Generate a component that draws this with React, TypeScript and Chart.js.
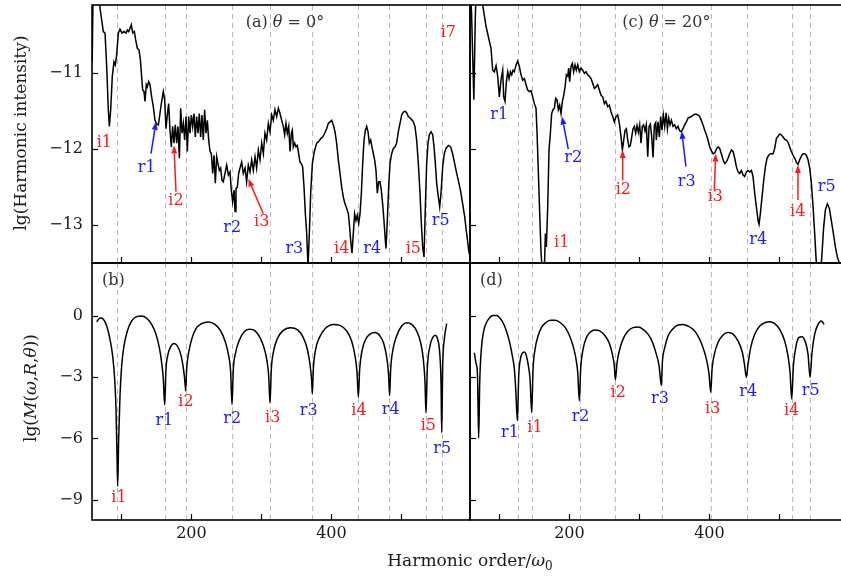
import React, { useEffect, useRef } from 'react';
import { Chart, registerables } from 'chart.js';
Chart.register(...registerables);

const X_MIN = 58;
const X_MAX = 598;
const X_TICKS = [100, 200, 300, 400, 500];
const X_TICK_LABELS = [200, 400];
const INT_TICKS = [-13, -12, -11];
const MOD_TICKS = [-9, -6, -3, 0];

// (a) theta = 0 deg, harmonic intensity
const harm0X = [58.3,59.6,67.5,69.4,74.2,76.6,79,81.3,82.8,84.7,87,89.4,91.3,93.2,95.6,98,100.9,103.7,106.6,108.5,110.4,112.3,114.2,116.1,118.5,120.4,122.8,125.1,127.1,128.9,130.4,132.3,133.7,135.6,137,139,140.9,143.2,145.6,148,150.4,152.8,155.1,157.5,159.9,161.8,163.7,165.6,167.5,169.4,171.3,173.2,175.1,177,179,180.9,182.8,184.7,186.6,188.5,190.4,192.3,194.2,196.1,198,199.9,201.8,203.7,205.6,207.5,209.4,211.3,213.2,215.1,217,218.9,220.9,222.8,224.7,226.6,228.5,230.4,232.3,234.2,236.1,238,239.9,241.8,243.7,245.6,248,250.4,252.8,255.1,257,258.9,260.9,262.3,263.7,265.6,267.5,269.4,271.8,274.2,276.6,278.9,281.3,283.7,286.1,288.5,290.9,293.2,295.6,298,300.4,302.8,305.1,307.5,309.9,312.3,314.7,317,319.4,321.8,324.2,326.6,329,331.3,333.2,335.1,337,339,340.9,342.8,344.2,345.6,347.5,349.4,351.3,353.2,355.1,357,358.9,360.9,362.8,364.7,366.6,368.5,370.4,372.8,375.6,379,381.8,384.7,387.5,390.4,393.2,395.6,398,400.4,402.8,405.1,407.5,409.9,412.3,414.7,417,419.4,421.8,424.2,425.6,427.5,429.4,431.3,433.2,435.1,437,439,440.9,442.8,444.7,446.6,448.5,450.4,452.3,454.2,456.1,458,459.9,461.8,463.7,465.6,467.5,469.4,471.3,473.2,475.1,477,478,479.9,481.8,483.7,486.1,488.5,490.9,493.2,495.6,498,500.4,502.8,505.1,507.5,509.9,512.3,514.7,517,519.4,521.8,524.2,526.6,528.5,530.4,532.3,534.2,536.1,538,539.9,542.3,544.7,546.6,548.5,550.4,552.8,554.7,556.6,559,561.3,563.7,567.1,570.4,573.2,576.1,579,581.8,584.7,587.5,590.4,593.2,596.1,598.9];
const harm0Y = [-10.85,-9.9,-9.9,-10.14,-10.45,-10.47,-10.91,-11.48,-11.7,-11.48,-11.04,-10.85,-10.89,-10.76,-10.47,-10.42,-10.47,-10.45,-10.47,-10.43,-10.45,-10.41,-10.36,-10.47,-10.45,-10.56,-10.67,-10.69,-10.82,-11.04,-11.22,-11.24,-11.37,-11.15,-11.18,-11.11,-11.15,-11.31,-11.44,-11.62,-11.67,-11.68,-11.53,-11.37,-11.24,-11.35,-11.73,-11.55,-11.4,-11.75,-11.97,-11.7,-11.92,-11.68,-11.92,-11.7,-12.12,-11.46,-11.79,-11.66,-11.88,-11.57,-12.03,-11.57,-11.79,-11.55,-11.7,-11.53,-11.84,-11.57,-11.79,-11.53,-11.84,-11.55,-11.88,-11.48,-11.79,-11.62,-11.88,-12.03,-12.06,-12.32,-12.08,-12.45,-12.1,-12.19,-12.28,-12.25,-12.41,-12.43,-12.32,-12.21,-12.34,-12.3,-12.54,-12.69,-12.54,-12.82,-12.52,-12.5,-12.32,-12.25,-12.17,-12.32,-12.25,-12.43,-12.21,-12.3,-12.14,-12.28,-12.1,-12.25,-12.01,-12.14,-11.92,-12.06,-11.79,-11.88,-11.66,-11.77,-11.55,-11.62,-11.48,-11.57,-11.46,-11.53,-11.62,-11.7,-11.81,-11.66,-11.79,-11.7,-12.03,-11.79,-11.75,-11.97,-11.92,-11.97,-11.95,-12.06,-12.17,-12.19,-12.23,-12.5,-12.85,-13.11,-13.55,-13.11,-12.58,-12.19,-12.03,-11.92,-11.9,-11.86,-11.84,-11.79,-11.73,-11.66,-11.64,-11.62,-11.68,-11.77,-11.92,-12.14,-12.32,-12.5,-12.63,-12.72,-12.78,-12.85,-12.98,-13.2,-13.37,-13.11,-12.85,-12.94,-12.87,-12.98,-12.85,-12.58,-12.19,-11.88,-11.75,-11.7,-11.77,-11.92,-11.88,-11.97,-12.06,-12.14,-12.28,-12.58,-12.43,-12.43,-12.54,-12.72,-12.94,-13.2,-13.31,-12.94,-12.5,-12.19,-12.06,-11.99,-11.97,-11.92,-11.77,-11.66,-11.55,-11.51,-11.5,-11.52,-11.57,-11.59,-11.61,-11.64,-11.7,-11.88,-12.19,-12.58,-12.98,-13.29,-13.42,-12.76,-12.19,-11.92,-11.81,-11.77,-11.81,-11.97,-12.19,-12.45,-12.63,-12.76,-12.58,-12.23,-12.06,-11.99,-11.95,-11.97,-12.06,-12.19,-12.32,-12.43,-12.56,-12.72,-12.89,-13.11,-13.33,-13.46];

// (c) theta = 20 deg, harmonic intensity
const harm20X = [58,60.2,63.5,65.5,67,73,76.1,80.9,85.7,88,90.4,92.8,95.2,97.6,99.9,102.3,104.7,106.1,108,110,111.9,113.8,115.7,117.6,119.5,121.4,123.8,126.1,128.5,130.9,133.3,135.7,138,140.4,142.8,145.2,147.6,149.9,152.3,153.8,155.7,157.6,159.5,161.4,164.2,165.7,167.1,169,170.9,172.8,174.7,176.6,178.5,180.4,182.3,184.2,186.1,188,190,191.9,193.8,195.7,197.6,199,200.4,202.3,204.2,206.1,208,209.9,211.9,214.2,216.6,219,221.4,223.8,226.1,228.5,230.9,233.3,235.7,238,240.4,242.8,245.2,247.6,250,252.3,254.7,257.1,259.5,261.9,264.2,266.6,269,271.4,273.8,275.7,277.6,279.5,281.4,283.3,285.2,287.1,289,290.9,292.8,294.7,296.6,298.5,300.4,302.3,304.2,306.1,308,309.9,311.9,313.8,315.7,317.6,319.5,321.4,323.3,324.2,326.6,328.5,330.4,332.3,334.2,336.1,338.1,340,341.9,343.8,345.7,348.1,350.4,352.8,355.2,357.6,360,362.3,364.7,367.1,369.5,371.9,374.2,376.6,379,381.4,383.8,386.1,388.5,390.9,393.3,395.7,398,400.4,402.8,405.2,407.6,410,412.3,414.7,417.1,419.5,421.9,424.2,426.6,429,431.4,433.8,436.2,438.5,440.9,443.3,445.7,448.1,450.4,452.8,455.2,457.6,460,462.3,464.7,467.1,469.5,470.9,472.8,475.2,477.6,480,482.3,484.7,487.6,490.9,493.3,495.7,498.1,500.4,502.8,505.2,507.6,510,512.3,514.7,517.1,519.5,521.9,524.2,526.6,529,531.4,533.8,536.1,538.5,540.9,543.3,545.7,548.1,550.4,552.8,555.2,558.5,560.9,563.3,565.7,568.5,571.4,574.2,577.1,580,582.8,586.6,590];
const harm20Y = [-9.8,-10.2,-11.35,-10.3,-9.8,-9.8,-10.1,-10.38,-10.58,-10.67,-10.96,-10.98,-10.9,-11.04,-11.31,-11.09,-10.96,-11.31,-11.37,-11.11,-10.98,-11.07,-10.98,-11.02,-10.96,-10.98,-10.89,-10.84,-10.91,-11.02,-11.09,-11.07,-11.15,-11.22,-11.24,-11.23,-11.31,-11.4,-11.46,-11.79,-12.32,-12.85,-13.37,-13.6,-13.6,-13.11,-13.29,-12.76,-12.01,-11.79,-11.53,-11.48,-11.46,-11.33,-11.35,-11.48,-11.42,-11.53,-11.37,-11.29,-11.18,-11.02,-11.04,-10.93,-11.11,-10.91,-10.87,-10.98,-10.89,-10.96,-10.89,-10.98,-10.93,-10.96,-11,-10.98,-11.02,-11.04,-11.07,-11.13,-11.2,-11.18,-11.15,-11.22,-11.29,-11.31,-11.4,-11.37,-11.44,-11.42,-11.51,-11.57,-11.64,-11.57,-11.55,-11.66,-11.84,-12.01,-11.88,-11.75,-11.73,-11.88,-11.97,-11.95,-11.84,-11.73,-11.7,-11.79,-11.69,-11.78,-11.68,-11.92,-11.7,-11.68,-11.76,-11.68,-12.1,-11.7,-11.67,-11.84,-12.11,-11.68,-11.65,-11.88,-11.64,-11.84,-11.57,-11.75,-11.55,-11.7,-11.52,-11.73,-11.59,-11.68,-11.62,-11.7,-11.68,-11.73,-11.7,-11.76,-11.77,-11.73,-11.68,-11.64,-11.59,-11.58,-11.57,-11.55,-11.54,-11.54,-11.55,-11.57,-11.62,-11.68,-11.75,-11.81,-11.88,-11.97,-12.02,-12.06,-12.05,-12,-11.97,-11.99,-12.06,-12.14,-12.19,-12.17,-12.12,-12.06,-12.01,-12.03,-12.12,-12.23,-12.3,-12.32,-12.28,-12.34,-12.36,-12.3,-12.28,-12.3,-12.28,-12.36,-12.58,-12.76,-12.94,-12.99,-12.85,-12.63,-12.41,-12.23,-12.12,-12.08,-12.06,-12.06,-11.99,-11.86,-11.83,-11.8,-11.81,-11.84,-11.87,-11.88,-11.91,-11.97,-12.03,-12.08,-12.12,-12.17,-12.2,-12.14,-12.09,-12.06,-12.06,-12.08,-12.14,-12.25,-12.45,-12.76,-13.11,-13.51,-13.7,-13.7,-13.37,-13.02,-12.8,-12.72,-12.78,-12.94,-13.11,-13.29,-13.42,-13.53,-13.7];

// (b) theta = 0 deg, lg M
const mod0X = [64.7,69.4,74.2,79,83.7,87.5,90.4,92.3,93.7,94.7,96.1,98,100.4,103.7,108.5,114.7,121.8,129,136.1,143.2,149.4,154.2,157.5,159.9,161.8,163.7,166.6,170.4,175.1,179.9,184.7,188,190.4,191.8,193.2,196.1,200.4,206.6,214.7,224.2,233.7,241.8,248,252.8,256.1,258,259.9,263.2,268,275.1,282.8,290.9,298,303.7,308,310.4,312.3,314.2,317.5,322.8,330.4,341.8,351.8,359.9,365.6,369.4,371.8,372.8,374.2,377.5,382.8,390.9,402.8,412.3,421.8,428.9,433.7,436.6,438.5,440.4,443.7,449,455.2,462.3,469.5,475.1,479.4,481.8,483.2,484.7,488,493.2,500.4,507.5,514.7,521.8,527.5,531.3,533.7,535.1,537,540.9,544.7,548.5,551.8,554.7,556.6,557.6,559,561.3,564.7];
const mod0Y = [-0.28,-0.1,-0.16,-0.49,-1.14,-1.95,-3.09,-4.55,-6.83,-8.34,-6.02,-3.9,-2.44,-1.46,-0.73,-0.24,-0.03,0,-0.11,-0.41,-0.89,-1.55,-2.28,-3.09,-4.36,-2.6,-1.87,-1.5,-1.35,-1.46,-1.87,-2.44,-3.09,-3.66,-2.6,-1.79,-1.14,-0.62,-0.37,-0.29,-0.41,-0.73,-1.22,-1.87,-2.76,-4.34,-2.6,-1.79,-1.22,-0.78,-0.65,-0.73,-1.06,-1.55,-2.2,-2.93,-4.26,-2.6,-1.71,-1.11,-0.73,-0.57,-0.68,-1.06,-1.63,-2.36,-3.17,-3.82,-2.6,-1.63,-1.06,-0.62,-0.41,-0.46,-0.73,-1.22,-1.95,-2.76,-3.98,-2.6,-1.71,-1.14,-0.89,-0.81,-0.98,-1.38,-2.11,-2.93,-3.9,-2.6,-1.63,-0.98,-0.49,-0.33,-0.41,-0.73,-1.3,-2.11,-3.25,-4.75,-2.6,-1.46,-1.06,-0.94,-1.14,-1.79,-3.25,-5.72,-2.44,-1.14,-0.37];

// (d) theta = 20 deg, lg M
const mod20X = [64.2,66.5,68.7,70.4,71.9,74.2,77.6,81.4,86.1,90.9,95.7,100.4,105.2,110,114.7,118.5,121.4,123.3,125.7,127.6,130,132.8,135.7,138.5,141.4,143.8,146.1,148.1,150.9,155.2,160,166.1,172.8,180,187.1,194.2,200.4,205.2,209,211.9,214.2,216.1,219.5,224.2,230,236.1,243.3,250.4,256.6,261.4,264.2,265.7,268.1,271.9,277.6,283.8,290.9,298.1,305.2,312.3,318.5,324.2,328.1,331.4,332.8,336.2,340.9,348.1,355.2,362.3,369.5,376.6,383.8,390,395.7,399.5,401.9,403.8,407.6,412.3,419.5,426.6,433.8,440.9,447.1,450.4,452.8,455.2,459,464.7,471.9,479,486.2,493.3,500.4,507.6,512.3,515.2,517.6,520,523.3,527.6,532.3,537.1,540.9,543.8,546.6,550.4,555.2,559.9,563.8];
const mod20Y = [-1.8,-2.3,-2.9,-5.98,-3.25,-1.63,-0.73,-0.33,-0.08,0.03,0.03,-0.08,-0.33,-0.73,-1.3,-1.95,-2.6,-3.58,-5.12,-2.93,-2.11,-1.82,-1.76,-1.95,-2.44,-3.09,-4.72,-2.6,-1.63,-0.98,-0.57,-0.33,-0.21,-0.21,-0.33,-0.57,-0.98,-1.46,-2.03,-2.76,-4.15,-2.6,-1.63,-1.06,-0.78,-0.68,-0.73,-0.94,-1.3,-1.87,-2.44,-3.12,-2.28,-1.63,-1.06,-0.73,-0.57,-0.54,-0.65,-0.89,-1.27,-1.87,-2.44,-3.41,-2.28,-1.55,-0.98,-0.62,-0.44,-0.41,-0.49,-0.65,-0.98,-1.46,-2.11,-2.85,-3.74,-2.6,-1.79,-1.3,-0.93,-0.81,-0.89,-1.22,-1.79,-2.44,-3.01,-2.36,-1.55,-0.89,-0.49,-0.33,-0.28,-0.37,-0.65,-1.22,-1.95,-2.76,-4.07,-2.44,-1.55,-1.06,-1.01,-1.27,-1.87,-3.01,-1.79,-0.89,-0.41,-0.24,-0.41];

// resonance positions (dashed guide lines)
const lines0 = [94.2, 162.3, 192.3, 258.4, 312.3, 372.7, 438.4, 482.7, 535.1, 557.6];
const lines20 = [126.5, 147, 214.7, 265.7, 331.9, 401.9, 453.3, 518, 543.7];

const RED = '#ff1a1a';
const BLUE = '#1a1aff';
const GRAY = '#333333';
const FONT = '"DejaVu Serif", "Liberation Serif", serif';

// annotation texts: [text, x, y, colour]
const labelsA: [string, number, number, string][] = [
  ['i1', 75.6, -11.91, RED], ['r1', 136.1, -12.25, BLUE], ['i2', 178, -12.68, RED],
  ['r2', 258.4, -13.04, BLUE], ['i3', 300.4, -12.96, RED], ['r3', 347, -13.32, BLUE],
  ['i4', 414.7, -13.32, RED], ['r4', 458.4, -13.32, BLUE], ['i5', 517, -13.32, RED],
  ['r5', 556.1, -12.94, BLUE], ['i7', 567, -10.47, RED],
];
const labelsB: [string, number, number, string][] = [
  ['(b)', 88.4, 1.71, GRAY], ['i1', 96.6, -8.91, RED], ['r1', 161.3, -5.12, BLUE],
  ['i2', 192.3, -4.23, RED], ['r2', 258.4, -5.04, BLUE], ['i3', 316.1, -4.99, RED],
  ['r3', 367.6, -4.67, BLUE], ['i4', 439.4, -4.63, RED], ['r4', 484.7, -4.59, BLUE],
  ['i5', 538.4, -5.37, RED], ['r5', 558.4, -6.5, BLUE],
];
const labelsC: [string, number, number, string][] = [
  ['r1', 99.8, -11.55, BLUE], ['r2', 205.5, -12.11, BLUE], ['i1', 189, -13.23, RED],
  ['i2', 277, -12.53, RED], ['r3', 367.5, -12.43, BLUE], ['i3', 408.4, -12.63, RED],
  ['r4', 469.8, -13.19, BLUE], ['i4', 526.1, -12.82, RED], ['r5', 567.5, -12.5, BLUE],
];
const labelsD: [string, number, number, string][] = [
  ['(d)', 88.6, 1.71, GRAY], ['r1', 115, -5.72, BLUE], ['i1', 150.8, -5.5, RED],
  ['r2', 216, -4.96, BLUE], ['i2', 269.8, -3.79, RED], ['r3', 329.4, -4.06, BLUE],
  ['i3', 404.7, -4.55, RED], ['r4', 455.5, -3.74, BLUE], ['i4', 517.5, -4.63, RED],
  ['r5', 544.7, -3.66, BLUE],
];
// arrows: [x tail, y tail, x tip, y tip, colour]
const arrowsA: [number, number, number, number, string][] = [
  [142.3, -12.06, 149.4, -11.64, BLUE],
  [178, -12.56, 175.1, -11.95, RED],
  [302.7, -12.85, 281.3, -12.39, RED],
];
const arrowsC: [number, number, number, number, string][] = [
  [198.4, -12.0, 189.4, -11.57, BLUE],
  [276.1, -12.41, 276.1, -12.01, RED],
  [366.5, -12.23, 360.4, -11.76, BLUE],
  [407, -12.54, 409, -12.06, RED],
  [526.5, -12.67, 526.5, -12.21, RED],
];

type Seg = [string, boolean];
const titleA: Seg[] = [['(a) ', false], ['θ', true], [' = 0°', false]];
const titleC: Seg[] = [['(c) ', false], ['θ', true], [' = 20°', false]];

function drawRich(ctx: CanvasRenderingContext2D, segs: Seg[], cx: number, cy: number, size: number, color: string) {
  const fontOf = (it: boolean) => `${it ? 'italic ' : ''}${size}px ${FONT}`;
  let total = 0;
  for (const [t, it] of segs) { ctx.font = fontOf(it); total += ctx.measureText(t).width; }
  let x = cx - total / 2;
  ctx.fillStyle = color;
  ctx.textAlign = 'left';
  ctx.textBaseline = 'middle';
  for (const [t, it] of segs) { ctx.font = fontOf(it); ctx.fillText(t, x, cy); x += ctx.measureText(t).width; }
}

function drawArrow(ctx: CanvasRenderingContext2D, x1: number, y1: number, x2: number, y2: number, color: string) {
  const ang = Math.atan2(y2 - y1, x2 - x1);
  const hl = 8, hw = 3;
  const bx = x2 - hl * Math.cos(ang), by = y2 - hl * Math.sin(ang);
  ctx.strokeStyle = color; ctx.fillStyle = color; ctx.lineWidth = 1.5; ctx.setLineDash([]);
  ctx.beginPath(); ctx.moveTo(x1, y1); ctx.lineTo(bx, by); ctx.stroke();
  ctx.beginPath(); ctx.moveTo(x2, y2);
  ctx.lineTo(bx + hw * Math.sin(ang), by - hw * Math.cos(ang));
  ctx.lineTo(bx - hw * Math.sin(ang), by + hw * Math.cos(ang));
  ctx.closePath(); ctx.fill();
}

type Panel = {
  id: string; left: number; top: number; right: number; bottom: number; canvasW: number;
  xs: number[]; ys: number[]; yMin: number; yMax: number; yTicks: number[];
  showY: boolean; showX: boolean; vlines: number[]; smooth: boolean;
  labels: [string, number, number, string][]; arrows: [number, number, number, number, string][];
  title?: Seg[]; titleX?: number; titleY?: number;
  extra?: (ctx: CanvasRenderingContext2D) => void;
};

const CH = 576;
const XH = 30;

const panels: Panel[] = [
  { id: 'a', left: 92, top: 5, right: 470, bottom: 263, canvasW: 841, xs: harm0X, ys: harm0Y,
    yMin: -13.5, yMax: -10.1, yTicks: INT_TICKS, showY: true, showX: false, vlines: lines0, smooth: false,
    labels: labelsA, arrows: arrowsA, title: titleA, titleX: 333.7, titleY: -10.34,
    extra: (ctx) => {
      ctx.save(); ctx.translate(22, 133); ctx.rotate(-Math.PI / 2);
      drawRich(ctx, [['lg(Harmonic intensity)', false]], 0, 0, 17, '#1a1a1a'); ctx.restore();
    } },
  { id: 'b', left: 92, top: 263, right: 470, bottom: 520, canvasW: 841, xs: mod0X, ys: mod0Y,
    yMin: -10, yMax: 2.6, yTicks: MOD_TICKS, showY: true, showX: true, vlines: lines0, smooth: true,
    labels: labelsB, arrows: [],
    extra: (ctx) => {
      ctx.save(); ctx.translate(32, 388); ctx.rotate(-Math.PI / 2);
      drawRich(ctx, [['lg(', false], ['M', true], ['(', false], ['ω', true], [',', false], ['R', true], [',', false], ['θ', true], ['))', false]], 0, 0, 17, '#1a1a1a');
      ctx.restore();
      // x axis title
      const size = 17;
      ctx.font = `${size}px ${FONT}`;
      const w1 = ctx.measureText('Harmonic order/').width;
      ctx.font = `italic ${size}px ${FONT}`;
      const w2 = ctx.measureText('ω').width;
      ctx.font = `${12}px ${FONT}`;
      const w3 = ctx.measureText('0').width;
      let x = 470 - (w1 + w2 + w3) / 2;
      const y = 562;
      ctx.fillStyle = '#1a1a1a'; ctx.textAlign = 'left'; ctx.textBaseline = 'middle';
      ctx.font = `${size}px ${FONT}`; ctx.fillText('Harmonic order/', x, y); x += w1;
      ctx.font = `italic ${size}px ${FONT}`; ctx.fillText('ω', x, y); x += w2;
      ctx.font = `12px ${FONT}`; ctx.fillText('0', x, y + 5);
    } },
  { id: 'c', left: 470, top: 5, right: 848, bottom: 263, canvasW: 900, xs: harm20X, ys: harm20Y,
    yMin: -13.5, yMax: -10.1, yTicks: INT_TICKS, showY: false, showX: false, vlines: lines20, smooth: false,
    labels: labelsC, arrows: arrowsC, title: titleC, titleX: 338.6, titleY: -10.34 },
  { id: 'd', left: 470, top: 263, right: 848, bottom: 520, canvasW: 900, xs: mod20X, ys: mod20Y,
    yMin: -10, yMax: 2.6, yTicks: MOD_TICKS, showY: false, showX: true, vlines: lines20, smooth: true,
    labels: labelsD, arrows: [] },
];

function buildConfig(p: Panel): any {
  const tickFont = { family: FONT, size: 16 };
  const plugin = {
    id: 'panelDecor' + p.id,
    beforeDatasetsDraw(chart: any) {
      const { ctx, chartArea: ca, scales } = chart;
      const x = scales.x;
      ctx.save();
      ctx.beginPath(); ctx.rect(ca.left, ca.top, ca.right - ca.left, ca.bottom - ca.top); ctx.clip();
      ctx.strokeStyle = '#b8b8b8'; ctx.lineWidth = 1; ctx.setLineDash([5, 4]);
      for (const v of p.vlines) {
        const px = Math.round(x.getPixelForValue(v)) + 0.5;
        ctx.beginPath(); ctx.moveTo(px, ca.top); ctx.lineTo(px, ca.bottom); ctx.stroke();
      }
      ctx.restore();
    },
    afterDatasetsDraw(chart: any) {
      const { ctx, chartArea: ca, scales } = chart;
      const x = scales.x, y = scales.y;
      ctx.save();
      ctx.setLineDash([]);
      ctx.strokeStyle = '#000'; ctx.lineWidth = 1.2;
      for (const t of x.ticks) {
        const px = Math.round(x.getPixelForValue(t.value)) + 0.5;
        ctx.beginPath(); ctx.moveTo(px, ca.bottom); ctx.lineTo(px, ca.bottom - 6); ctx.stroke();
      }
      for (const t of y.ticks) {
        const py = Math.round(y.getPixelForValue(t.value)) + 0.5;
        ctx.beginPath(); ctx.moveTo(ca.left, py); ctx.lineTo(ca.left + 6, py); ctx.stroke();
      }
      ctx.lineWidth = 1.6;
      ctx.strokeRect(ca.left, ca.top, ca.right - ca.left, ca.bottom - ca.top);
      for (const [x1, y1, x2, y2, c] of p.arrows) {
        drawArrow(ctx, x.getPixelForValue(x1), y.getPixelForValue(y1), x.getPixelForValue(x2), y.getPixelForValue(y2), c);
      }
      ctx.font = `16px ${FONT}`;
      ctx.textAlign = 'center'; ctx.textBaseline = 'middle';
      for (const [t, lx, ly, c] of p.labels) {
        ctx.fillStyle = c;
        ctx.fillText(t, x.getPixelForValue(lx), y.getPixelForValue(ly));
      }
      if (p.title) drawRich(ctx, p.title, x.getPixelForValue(p.titleX), y.getPixelForValue(p.titleY), 16, GRAY);
      if (p.extra) p.extra(ctx);
      ctx.restore();
    },
  };
  const data = p.xs.map((xv, i) => ({ x: xv, y: p.ys[i] }));
  return {
    type: 'line',
    data: {
      datasets: [{
        data, borderColor: '#000', borderWidth: 1.5, pointRadius: 0, fill: false,
        tension: 0, cubicInterpolationMode: p.smooth ? 'monotone' : 'default',
      }],
    },
    options: {
      animation: false, responsive: false, devicePixelRatio: 1,
      layout: { padding: { left: 0, top: p.top, right: p.canvasW - p.right, bottom: CH - p.bottom - XH } },
      plugins: { legend: { display: false }, tooltip: { enabled: false } },
      scales: {
        x: {
          type: 'linear', position: 'bottom', min: X_MIN, max: X_MAX,
          afterBuildTicks: (s: any) => { s.ticks = X_TICKS.map((v) => ({ value: v })); },
          ticks: {
            display: p.showX, autoSkip: false, maxRotation: 0, padding: 4, color: '#1a1a1a', font: tickFont,
            callback: (v: number) => (X_TICK_LABELS.includes(v) ? String(v) : ''),
          },
          grid: { display: false, drawTicks: false }, border: { display: false },
          afterFit: (s: any) => { s.height = XH; s.paddingLeft = 0; s.paddingRight = 0; },
        },
        y: {
          type: 'linear', position: 'left', min: p.yMin, max: p.yMax,
          afterBuildTicks: (s: any) => { s.ticks = p.yTicks.map((v) => ({ value: v })); },
          ticks: {
            display: p.showY, autoSkip: false, padding: 9, color: '#1a1a1a', font: tickFont,
            callback: (v: number) => (v < 0 ? '−' + Math.abs(v) : String(v)),
          },
          grid: { display: false, drawTicks: false }, border: { display: false },
          afterFit: (s: any) => { s.width = p.left; s.paddingTop = 0; s.paddingBottom = 0; },
        },
      },
    },
    plugins: [plugin],
  };
}

export default function App() {
  const r0 = useRef<HTMLCanvasElement>(null);
  const r1 = useRef<HTMLCanvasElement>(null);
  const r2 = useRef<HTMLCanvasElement>(null);
  const r3 = useRef<HTMLCanvasElement>(null);
  const refs = [r0, r1, r2, r3];
  useEffect(() => {
    const charts = panels.map((p, i) => new Chart(refs[i].current as HTMLCanvasElement, buildConfig(p)));
    return () => charts.forEach((c) => c.destroy());
  }, []);
  return (
    <div style={{ position: 'fixed', left: 0, top: 0, width: 841, height: 576, overflow: 'hidden', background: '#fff' }}>
      {panels.map((p, i) => (
        <canvas key={p.id} ref={refs[i]} width={p.canvasW} height={CH}
          style={{ position: 'absolute', left: 0, top: 0, width: p.canvasW, height: CH }} />
      ))}
    </div>
  );
}
